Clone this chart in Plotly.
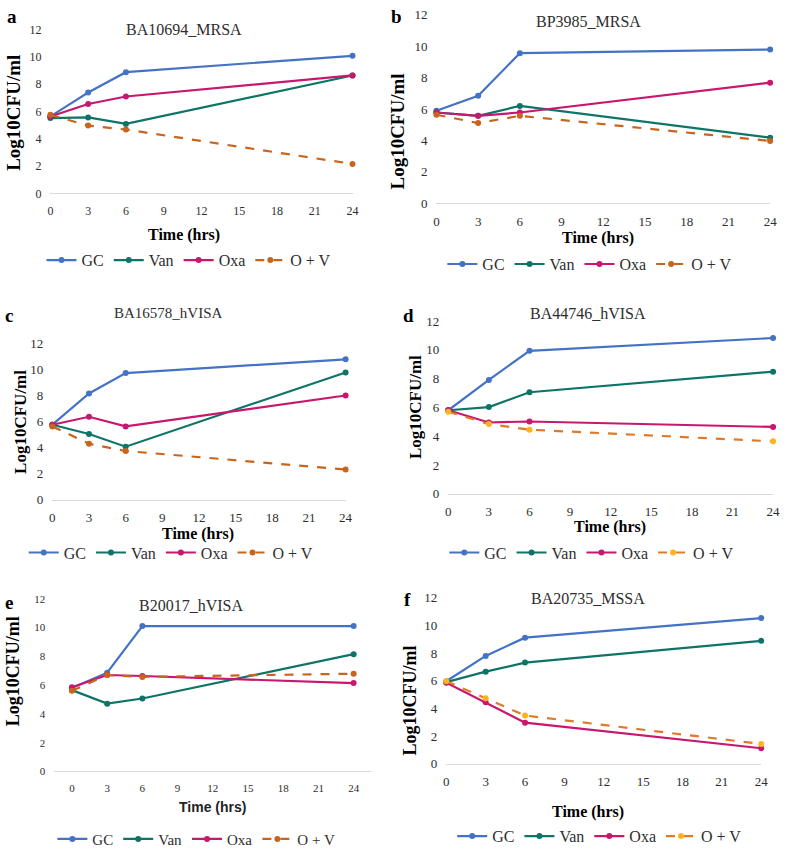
import plotly.graph_objects as go

W, H = 787, 856

# ---------------- data ----------------
TIME = [0, 3, 6, 24]
SERIES = ["GC", "Van", "Oxa", "O + V"]
X_TICKS = [0, 3, 6, 9, 12, 15, 18, 21, 24]
Y_TICKS = [0, 2, 4, 6, 8, 10, 12]
TITLES = ["BA10694_MRSA", "BP3985_MRSA", "BA16578_hVISA", "BA44746_hVISA", "B20017_hVISA", "BA20735_MSSA"]
LETTERS = ["a", "b", "c", "d", "e", "f"]

A_GC = [5.64, 7.39, 8.88, 10.08]
A_VAN = [5.52, 5.57, 5.09, 8.64]
A_OXA = [5.64, 6.55, 7.10, 8.64]
A_OV = [5.76, 4.97, 4.68, 2.16]

B_GC = [5.89, 6.85, 9.56, 9.79]
B_VAN = [5.78, 5.57, 6.20, 4.18]
B_OXA = [5.78, 5.57, 5.78, 7.68]
B_OV = [5.64, 5.11, 5.57, 3.97]

C_GC = [5.76, 8.16, 9.73, 10.79]
C_VAN = [5.76, 5.05, 4.07, 9.78]
C_OXA = [5.76, 6.37, 5.63, 8.01]
C_OV = [5.63, 4.30, 3.74, 2.32]

D_GC = [5.80, 7.91, 9.93, 10.82]
D_VAN = [5.80, 6.02, 7.05, 8.48]
D_OXA = [5.80, 4.95, 5.02, 4.64]
D_OV = [5.70, 4.84, 4.45, 3.64]

E_GC = [5.80, 6.86, 10.10, 10.10]
E_VAN = [5.65, 4.71, 5.07, 8.15]
E_OXA = [5.85, 6.70, 6.63, 6.14]
E_OV = [5.60, 6.70, 6.57, 6.79]

F_GC = [5.96, 7.79, 9.11, 10.53]
F_VAN = [5.89, 6.65, 7.31, 8.88]
F_OXA = [5.85, 4.43, 2.96, 1.11]
F_OV = [5.96, 4.73, 3.48, 1.42]

PANEL_DATA = [
    [A_GC, A_VAN, A_OXA, A_OV],
    [B_GC, B_VAN, B_OXA, B_OV],
    [C_GC, C_VAN, C_OXA, C_OV],
    [D_GC, D_VAN, D_OXA, D_OV],
    [E_GC, E_VAN, E_OXA, E_OV],
    [F_GC, F_VAN, F_OXA, F_OV],
]

# ---------------- style / geometry ----------------
C_GC_COL = "#4472C4"
C_VAN_COL = "#0F7468"
C_OXA_COL = "#C8176E"
C_OV_DARK = "#C8641E"
C_OV_LINE2 = "#E07A2A"
C_OV_MARK2 = "#FFB41E"

SERIF = "Liberation Serif"
SANS = "Liberation Sans"
TXT = "#2E2E2E"

GEO = [
    dict(x0=48, x1=354, yb=190, yt=23, xr=[0, 24], title=(183, 23), letter=(9, 10), ylab=(11, 108),
         xlab=(183, 232), leg=(47, 258), ylab_fs=19, tick_fs=12, tit_fs=16, xlab_fs=16, leg_fs=16,
         xlab_font=SERIF, ov_line=C_OV_DARK, ov_mark=C_OV_DARK),
    dict(x0=439, x1=777, yb=200, yt=8, xr=[0, 24], title=(593, 15), letter=(399, 10), ylab=(400, 127),
         xlab=(603, 235), leg=(453, 262), ylab_fs=19, tick_fs=13, tit_fs=16, xlab_fs=16, leg_fs=16,
         xlab_font=SERIF, ov_line=C_OV_DARK, ov_mark=C_OV_DARK),
    dict(x0=50, x1=347, yb=502, yt=343, xr=[0, 24], title=(168, 312), letter=(6, 314), ylab=(17, 423),
         xlab=(198, 537), leg=(29, 556), ylab_fs=17, tick_fs=13, tit_fs=15, xlab_fs=16, leg_fs=16,
         xlab_font=SERIF, ov_line=C_OV_DARK, ov_mark=C_OV_DARK),
    dict(x0=451, x1=780, yb=496, yt=320, xr=[0, 24], title=(593, 312), letter=(411, 314), ylab=(418, 408),
         xlab=(615, 530), leg=(455, 556), ylab_fs=17, tick_fs=13, tit_fs=16, xlab_fs=16, leg_fs=16,
         xlab_font=SERIF, ov_line=C_OV_LINE2, ov_mark=C_OV_MARK2),
    dict(x0=52, x1=373, yb=779, yt=603, xr=[-1.5, 25.5], title=(190, 610), letter=(6, 607), ylab=(10, 677),
         xlab=(212, 815), leg=(58, 848), ylab_fs=18, tick_fs=11, tit_fs=16, xlab_fs=14, leg_fs=15,
         xlab_font=SANS, ov_line=C_OV_DARK, ov_mark=C_OV_DARK),
    dict(x0=449, x1=768, yb=771, yt=602, xr=[0, 24], title=(593, 603), letter=(410, 604), ylab=(412, 707),
         xlab=(593, 820), leg=(463, 845), ylab_fs=18, tick_fs=13, tit_fs=16, xlab_fs=16, leg_fs=16,
         xlab_font=SERIF, ov_line=C_OV_LINE2, ov_mark=C_OV_MARK2),
]


def px(x):
    return x / W


def py(y):
    return 1 - y / H


fig = go.Figure()
annotations = []
layout = dict(
    width=W, height=H, margin=dict(l=0, r=0, t=0, b=0),
    paper_bgcolor="white", plot_bgcolor="white", showlegend=True,
)

for i, (g, vals) in enumerate(zip(GEO, PANEL_DATA)):
    n = i + 1
    xa = "x" if n == 1 else f"x{n}"
    ya = "y" if n == 1 else f"y{n}"
    lg = "legend" if n == 1 else f"legend{n}"
    colors = [C_GC_COL, C_VAN_COL, C_OXA_COL, g["ov_line"]]
    mcolors = [C_GC_COL, C_VAN_COL, C_OXA_COL, g["ov_mark"]]
    for name, v, c, mc in zip(SERIES, vals, colors, mcolors):
        fig.add_trace(go.Scatter(
            x=TIME, y=v, name=name, mode="lines+markers",
            line=dict(color=c, width=2.2, dash="dash" if name == "O + V" else "solid"),
            marker=dict(color=mc, size=6, symbol="circle"),
            xaxis=xa, yaxis=ya, legend=lg, cliponaxis=False, showlegend=True,
        ))
    xkey = "xaxis" if n == 1 else f"xaxis{n}"
    ykey = "yaxis" if n == 1 else f"yaxis{n}"
    layout[xkey] = dict(
        domain=[px(g["x0"]), px(g["x1"])], range=g["xr"], anchor=ya,
        tickvals=X_TICKS, ticktext=[str(t) for t in X_TICKS],
        showgrid=False, zeroline=False, showline=True, linecolor="#D9D9D9", linewidth=1,
        ticks="", ticklabelstandoff=6, ticklabeloverflow="allow",
        tickfont=dict(family=SERIF, size=g["tick_fs"], color=TXT),
        fixedrange=True,
    )
    layout[ykey] = dict(
        domain=[py(g["yb"]), py(g["yt"])], range=[0, 12], anchor=xa,
        tickvals=Y_TICKS, ticktext=[str(t) for t in Y_TICKS],
        showgrid=False, zeroline=False, showline=False, ticks="",
        ticklabelstandoff=8, tickfont=dict(family=SERIF, size=g["tick_fs"], color=TXT),
        fixedrange=True,
    )
    layout[lg] = dict(
        orientation="h", x=px(g["leg"][0] - 8), y=py(g["leg"][1]), xanchor="left", yanchor="middle",
        font=dict(family=SERIF, size=g["leg_fs"], color=TXT), bgcolor="rgba(0,0,0,0)",
        traceorder="normal", itemwidth=30,
    )
    annotations += [
        dict(text=TITLES[i], x=px(g["title"][0]), y=py(g["title"][1]), xref="paper", yref="paper",
             xanchor="center", yanchor="middle", showarrow=False,
             font=dict(family=SERIF, size=g["tit_fs"], color=TXT)),
        dict(text=f"<b>{LETTERS[i]}</b>", x=px(g["letter"][0]), y=py(g["letter"][1]), xref="paper",
             yref="paper", xanchor="center", yanchor="middle", showarrow=False,
             font=dict(family=SERIF, size=19, color="black")),
        dict(text="<b>Log10CFU/ml</b>", x=px(g["ylab"][0]), y=py(g["ylab"][1]), xref="paper", yref="paper",
             xanchor="center", yanchor="middle", showarrow=False, textangle=-90,
             font=dict(family=SERIF, size=g["ylab_fs"], color="black")),
        dict(text="<b>Time (hrs)</b>", x=px(g["xlab"][0]), y=py(g["xlab"][1]), xref="paper", yref="paper",
             xanchor="center", yanchor="middle", showarrow=False,
             font=dict(family=g["xlab_font"], size=g["xlab_fs"], color="black" if g["xlab_font"] == SERIF else "#222")),
    ]

layout["annotations"] = annotations
fig.update_layout(**layout)
fig.write_html("out.html", config={"displayModeBar": False},
               post_script="document.body.style.margin='0';document.body.style.overflow='hidden';")
